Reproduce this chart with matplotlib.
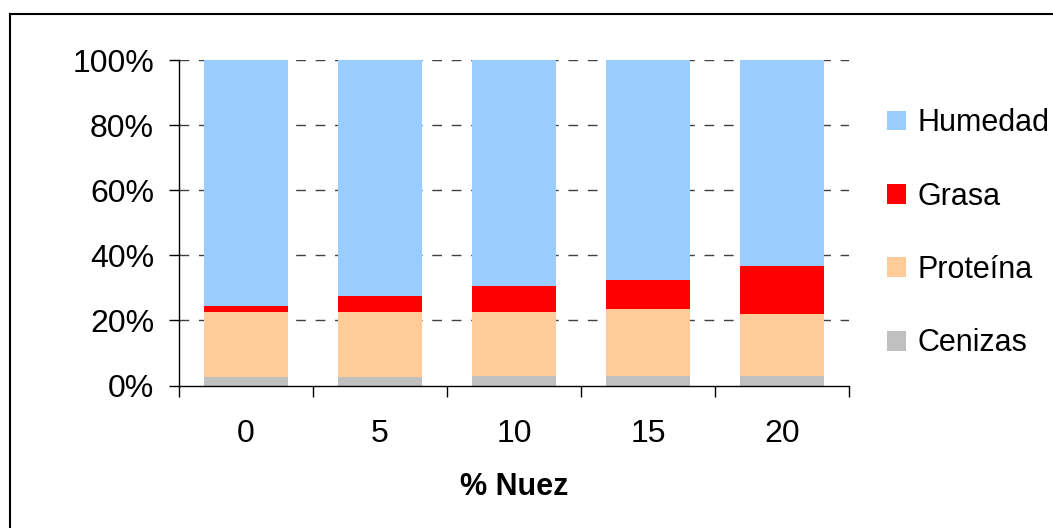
import matplotlib
matplotlib.use("Agg")
import matplotlib.pyplot as plt
from matplotlib.lines import Line2D
from matplotlib.patches import Patch
import numpy as np

plt.rcParams['font.family'] = ['Liberation Sans', 'DejaVu Sans']

categories = ["0", "5", "10", "15", "20"]
cenizas = [2.5, 2.5, 3.0, 3.0, 3.0]
proteina = [20.0, 20.0, 19.5, 20.6, 18.9]
grasa = [1.9, 5.0, 8.0, 8.8, 14.8]
humedad = [75.6, 72.5, 69.5, 67.6, 63.3]

series = [("Cenizas", cenizas, "#C0C0C0"),
          ("Proteína", proteina, "#FFCC99"),
          ("Grasa", grasa, "#FF0000"),
          ("Humedad", humedad, "#99CCFF")]

W, H = 1053, 528
fig = plt.figure(figsize=(W / 100, H / 100), dpi=100)
ax = fig.add_axes([179 / W, 1 - 385.5 / H, (849 - 179) / W, (385.5 - 60) / H])

x = np.arange(len(categories))
bottom = np.zeros(len(categories))
tot = np.array(cenizas) + np.array(proteina) + np.array(grasa) + np.array(humedad)
handles = []
for name, vals, col in series:
    pct = np.array(vals, dtype=float) / tot * 100
    ax.bar(x, pct, bottom=bottom, width=0.634, color=col, edgecolor='none', zorder=2)
    bottom += pct
    handles.append(Patch(facecolor=col, edgecolor='none', label=name))

ax.set_xlim(-0.5, len(categories) - 0.5)
ax.set_ylim(0, 100)
ax.set_yticks([0, 20, 40, 60, 80, 100])
ax.set_yticklabels([f"{t}%" for t in [0, 20, 40, 60, 80, 100]])
for y in [20, 40, 60, 80, 100]:
    ax.axhline(y, color="#404040", lw=1.0, ls=(0, (7, 7)), zorder=1)

ax.set_xticks(x)
ax.set_xticklabels(categories)
ax.set_xticks(np.arange(-0.5, len(categories) + 0.5, 1), minor=True)
ax.tick_params(axis='x', which='major', length=0, pad=24, labelsize=23)
ax.tick_params(axis='x', which='minor', length=8, width=1, color='black', direction='out')
ax.tick_params(axis='y', length=7, width=1, color='black', direction='out', pad=11, labelsize=23)

for s in ['top', 'right']:
    ax.spines[s].set_visible(False)
for s in ['left', 'bottom']:
    ax.spines[s].set_color('black')
    ax.spines[s].set_linewidth(1)

ax.set_xlabel("% Nuez", fontsize=22, fontweight='bold', labelpad=17)

leg = fig.legend(handles=handles[::-1], loc='upper left',
                 bbox_to_anchor=(875 / W, 1 - 96 / H), frameon=False,
                 fontsize=22, handlelength=0.62, handleheight=0.62,
                 handletextpad=0.36, labelspacing=1.42, borderaxespad=0)

# outer frame (left and top visible)
fig.add_artist(Line2D([9.5 / W, 9.5 / W], [0, 1 - 14 / H], color='black', lw=1.5, transform=fig.transFigure))
fig.add_artist(Line2D([9.5 / W, 1], [1 - 14 / H, 1 - 14 / H], color='black', lw=1.5, transform=fig.transFigure))

fig.savefig("out.png", dpi=100)
